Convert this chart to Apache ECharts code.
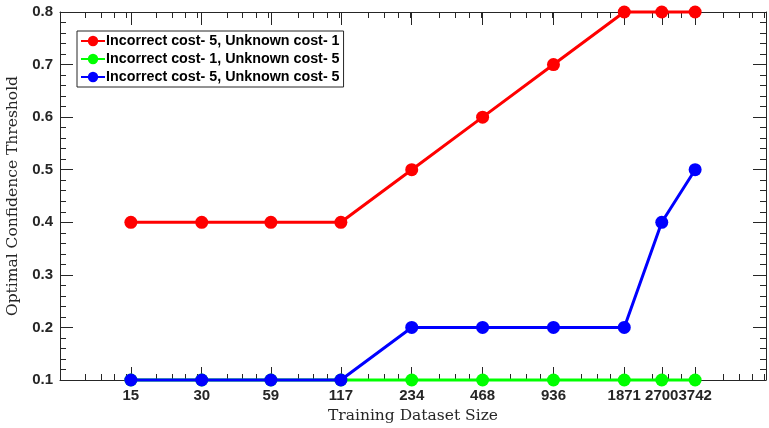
<!DOCTYPE html>
<html>
<head>
<meta charset="utf-8">
<script src="https://cdn.jsdelivr.net/npm/echarts@6/dist/echarts.min.js"></script>
<style>html,body{margin:0;padding:0;background:#fff}#c{width:769px;height:428px}</style>
</head>
<body>
<div id="c"></div>
<script>
const sizes = [15, 30, 59, 117, 234, 468, 936, 1871, 2700, 3742];
const red51 = [0.4, 0.4, 0.4, 0.4, 0.5, 0.6, 0.7, 0.8, 0.8, 0.8];
const green15 = [0.1, 0.1, 0.1, 0.1, 0.1, 0.1, 0.1, 0.1, 0.1, 0.1];
const blue55 = [0.1, 0.1, 0.1, 0.1, 0.2, 0.2, 0.2, 0.2, 0.4, 0.5];
const seriesNames = ['Incorrect cost- 5, Unknown cost- 1', 'Incorrect cost- 1, Unknown cost- 5', 'Incorrect cost- 5, Unknown cost- 5'];
const seriesColors = ['#ff0000', '#00ff00', '#0000ff'];

const axisColor = '#262626';
const tickFont = {fontFamily: 'Liberation Sans, Arial, sans-serif', fontWeight: 'bold', fontSize: 15, color: '#262626'};
const titleFont = {fontFamily: 'DejaVu Serif, serif', fontSize: 15.5, color: '#262626'};

function mk(vals) { return sizes.map((s, i) => [s, vals[i]]); }
const values = [red51, green15, blue55];

const chart = echarts.init(document.getElementById('c'), null, {renderer: 'canvas'});
const xCommon = {
  type: 'log', logBase: 2, min: 7.5, max: 7484,
  axisLine: {show: true, lineStyle: {color: axisColor, width: 1}},
  splitLine: {show: false}
};
chart.setOption({
  animation: false,
  backgroundColor: '#fff',
  grid: {left: 60, right: 3, top: 12, bottom: 48, containLabel: false, outerBoundsMode: 'none'},
  legend: {
    left: 77, top: 31, orient: 'vertical',
    backgroundColor: '#fff', borderColor: '#262626', borderWidth: 1,
    padding: [3, 4, 3, 3], itemGap: 4, itemWidth: 24, itemHeight: 13,
    textStyle: {fontFamily: 'Liberation Sans, Arial, sans-serif', fontWeight: 'bold', fontSize: 14.3, color: '#000', padding: [0, 0, 0, -4]},
    data: seriesNames
  },
  xAxis: [
    Object.assign({}, xCommon, {
      position: 'bottom',
      name: 'Training Dataset Size', nameLocation: 'middle', nameGap: 25,
      nameTextStyle: titleFont,
      axisTick: {show: true, inside: true, length: 13, customValues: sizes, lineStyle: {color: axisColor}},
      minorTick: {show: true, splitNumber: 5, length: 6, lineStyle: {color: axisColor}},
      axisLabel: {show: true, customValues: sizes, formatter: v => String(Math.round(v)), margin: 8, ...tickFont}
    }),
    Object.assign({}, xCommon, {
      position: 'top',
      axisTick: {show: true, inside: true, length: 13, customValues: sizes, lineStyle: {color: axisColor}},
      minorTick: {show: true, splitNumber: 5, length: 6, lineStyle: {color: axisColor}},
      axisLabel: {show: false}
    })
  ],
  yAxis: [
    {
      type: 'value', min: 0.1, max: 0.8, interval: 0.1, position: 'left',
      name: 'Optimal Confidence Threshold', nameLocation: 'middle', nameGap: 29,
      nameTextStyle: titleFont,
      axisLine: {show: true, lineStyle: {color: axisColor}},
      axisTick: {show: true, inside: true, length: 13, lineStyle: {color: axisColor}},
      minorTick: {show: true, splitNumber: 5, length: 6, lineStyle: {color: axisColor}},
      splitLine: {show: false},
      axisLabel: {formatter: v => v.toFixed(1), margin: 7, ...tickFont}
    },
    {
      type: 'value', min: 0.1, max: 0.8, interval: 0.1, position: 'right',
      axisLine: {show: true, lineStyle: {color: axisColor}},
      axisTick: {show: true, inside: true, length: 13, lineStyle: {color: axisColor}},
      minorTick: {show: true, splitNumber: 5, length: 6, lineStyle: {color: axisColor}},
      splitLine: {show: false},
      axisLabel: {show: false}
    }
  ],
  series: seriesNames.map((n, i) => ({
    name: n, type: 'line', xAxisIndex: 0, yAxisIndex: 0,
    data: mk(values[i]),
    symbol: 'circle', symbolSize: 13, clip: false,
    itemStyle: {color: seriesColors[i]},
    lineStyle: {color: seriesColors[i], width: 3},
    z: 2 + i
  }))
});
</script>
</body>
</html>
